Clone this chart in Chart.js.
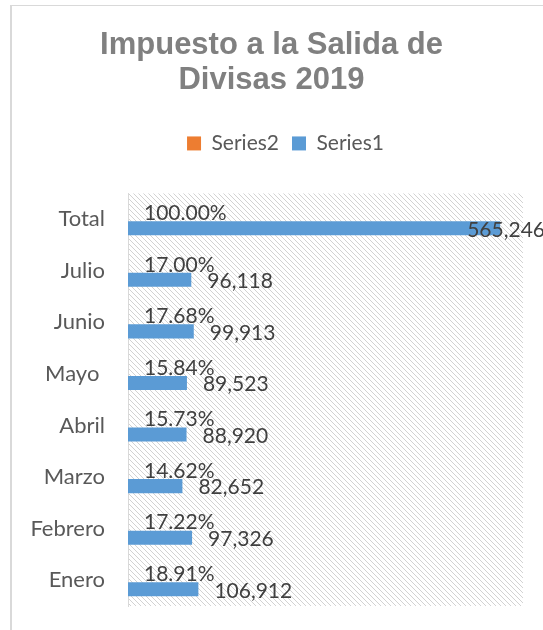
<!DOCTYPE html>
<html>
<head>
<meta charset="utf-8">
<script src="https://cdn.jsdelivr.net/npm/chart.js@4/dist/chart.umd.min.js"></script>
<style>
  html, body { margin: 0; padding: 0; background: #ffffff; }
  #wrap { width: 543px; height: 630px; }
</style>
</head>
<body>
<div id="wrap"><canvas id="c" width="543" height="630"></canvas></div>
<script>
// ---- Data ----
const categories = ['Enero', 'Febrero', 'Marzo', 'Abril', 'Mayo ', 'Junio', 'Julio', 'Total'];
const series1 = [106912, 97326, 82652, 88920, 89523, 99913, 96118, 565246];
const series2 = [0.1891, 0.1722, 0.1462, 0.1573, 0.1584, 0.1768, 0.1700, 1.0000];
const titleLines = ['Impuesto a la Salida de', 'Divisas 2019'];
const seriesNames = ['Series2', 'Series1'];

// ---- Hatch pattern for plot area ----
function makeHatch() {
  const t = document.createElement('canvas');
  t.width = 5; t.height = 5;
  const g = t.getContext('2d');
  g.fillStyle = '#ffffff';
  g.fillRect(0, 0, 5, 5);
  g.fillStyle = '#d2d2d2';
  for (let i = 0; i < 5; i++) g.fillRect(i, i, 1, 1);
  return t;
}

const backgroundPlugin = {
  id: 'bgHatch',
  beforeDraw(chart) {
    const ctx = chart.ctx;
    const a = chart.chartArea;
    ctx.save();
    ctx.fillStyle = '#d9d9d9';
    ctx.fillRect(10, 5, chart.width - 10, 1);
    ctx.fillRect(10, 5, 2, chart.height - 5);
    ctx.fillStyle = ctx.createPattern(makeHatch(), 'repeat');
    ctx.fillRect(a.left, a.top, a.right - a.left, a.bottom - a.top);
    ctx.restore();
  }
};

const legendShift = {
  id: 'legendShift',
  afterLayout(chart) {
    if (chart.legend) { chart.legend.left += 14; chart.legend.right += 14; }
  }
};

const labelsPlugin = {
  id: 'valueLabels',
  afterDatasetsDraw(chart) {
    const ctx = chart.ctx;
    ctx.save();
    ctx.font = '21px Lato';
    ctx.fillStyle = '#404040';
    ctx.textBaseline = 'middle';
    ctx.textAlign = 'left';
    chart.data.datasets.forEach((ds, di) => {
      const meta = chart.getDatasetMeta(di);
      meta.data.forEach((bar, i) => {
        const v = ds.data[i];
        let txt, x, y;
        if (ds.label === 'Series2') {
          txt = (v * 100).toFixed(2) + '%';
          x = bar.x + 16;
          y = bar.y + 3;
        } else {
          txt = v.toLocaleString('en-US');
          const w = ctx.measureText(txt).width;
          x = Math.min(bar.x + 16, chart.width + 2 - w);
          y = bar.y + 1.5;
        }
        ctx.fillText(txt, x, y);
      });
    });
    ctx.restore();
  }
};

new Chart(document.getElementById('c'), {
  type: 'bar',
  data: {
    labels: categories,
    datasets: [
      { label: seriesNames[0], data: series2, backgroundColor: '#ED7D31',
        categoryPercentage: 0.70, barPercentage: 0.78 },
      { label: seriesNames[1], data: series1, backgroundColor: '#5B9BD5',
        categoryPercentage: 0.70, barPercentage: 0.78 }
    ]
  },
  options: {
    indexAxis: 'y',
    responsive: false,
    animation: false,
    devicePixelRatio: 1,
    layout: { padding: { left: 20, right: 20, top: 0, bottom: 24 } },
    scales: {
      x: {
        position: 'top',
        min: 0, max: 600000,
        grid: { display: false, drawTicks: false },
        border: { display: false },
        ticks: { display: false },
        afterFit(s) { s.height = 29.5; }
      },
      y: {
        reverse: true,
        grid: { display: false, drawTicks: false },
        border: { display: true, color: '#d9d9d9', width: 1 },
        ticks: { font: { family: 'Lato', size: 22 }, color: '#595959', padding: 23 },
        afterFit(s) { s.width = 108; s.paddingTop = 0; s.paddingBottom = 0; }
      }
    },
    plugins: {
      title: {
        display: true,
        text: titleLines,
        color: '#808080',
        font: { family: 'Liberation Sans', size: 31, weight: 'bold', lineHeight: 1.12 },
        padding: { top: 28, bottom: 22.5 }
      },
      legend: {
        display: true,
        position: 'top',
        labels: {
          font: { family: 'Lato', size: 21 },
          color: '#595959',
          boxWidth: 14, boxHeight: 14,
          padding: 13
        }
      },
      tooltip: { enabled: false }
    }
  },
  plugins: [backgroundPlugin, legendShift, labelsPlugin]
});
</script>
</body>
</html>
